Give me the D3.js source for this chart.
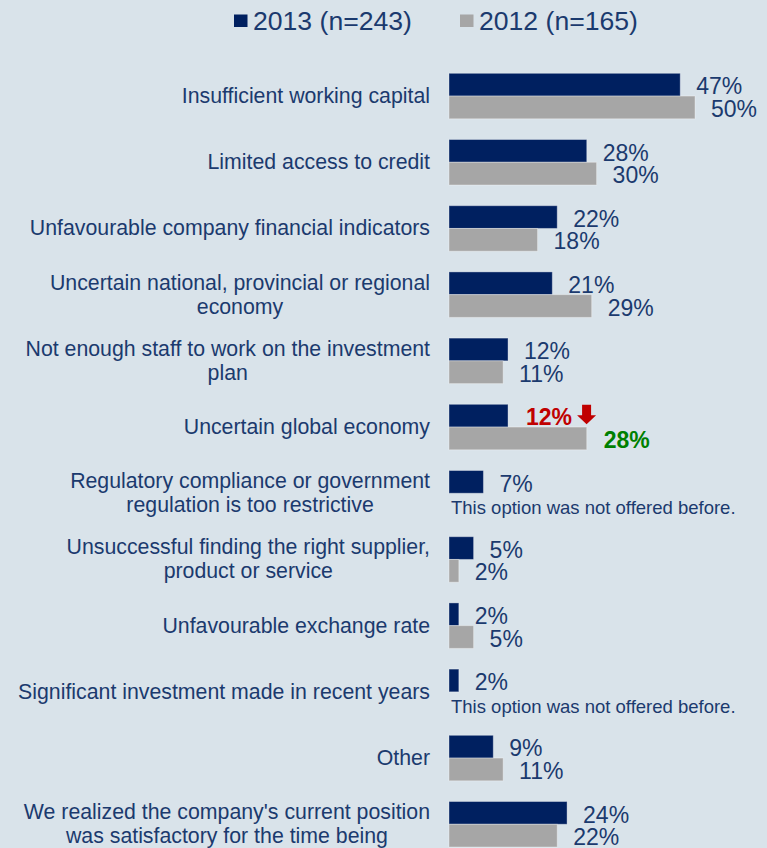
<!DOCTYPE html>
<html>
<head>
<meta charset="utf-8">
<script src="https://cdn.jsdelivr.net/npm/d3@7"></script>
<style>
  html, body { margin: 0; padding: 0; background: #d9e3ea; }
  svg { display: block; font-family: "Liberation Sans", Arial, sans-serif; }
</style>
</head>
<body>
<svg width="767" height="848"></svg>
<script>
// data
const categories = [
    "Insufficient working capital",
    "Limited access to credit",
    "Unfavourable company financial indicators",
    "Uncertain national, provincial or regional\neconomy",
    "Not enough staff to work on the investment\nplan",
    "Uncertain global economy",
    "Regulatory compliance or government\nregulation is too restrictive",
    "Unsuccessful finding the right supplier,\nproduct or service",
    "Unfavourable exchange rate",
    "Significant investment made in recent years",
    "Other",
    "We realized the company's current position\nwas satisfactory for the time being"
];
const values2013 = [47, 28, 22, 21, 12, 12, 7, 5, 2, 2, 9, 24];
const values2012 = [50, 30, 18, 29, 11, 28, null, 2, 5, null, 11, 22];
const seriesNames = ["2013 (n=243)", "2012 (n=165)"];
const noteText = "This option was not offered before.";
const highlighted = "Uncertain global economy";

const navy = "#002060";
const grey = "#a6a6a6";
const textColor = "#1b3a6e";

var svg = d3.select("svg");

// scales
const x = d3.scaleLinear().domain([0, 50]).range([449, 695]);
const y = d3.scaleBand()
    .domain(categories)
    .range([62.95, 62.95 + 12 * 66.2])
    .paddingInner(0.3127)
    .paddingOuter(0.3127 / 2);
const ySub = d3.scaleBand().domain(seriesNames).range([0, y.bandwidth()]);

// legend
const legend = svg.append("g");
const legendX = [234, 460];
seriesNames.forEach((name, i) => {
    legend.append("rect")
        .attr("x", legendX[i]).attr("y", 14.5)
        .attr("width", 13.5).attr("height", 12.5)
        .attr("fill", i === 0 ? navy : grey);
    legend.append("text")
        .attr("x", legendX[i] + 19).attr("y", 29.5)
        .attr("font-size", 26.6)
        .attr("fill", textColor)
        .text(name);
});

// rows
const rows = categories.map((c, i) => ({ cat: c, v13: values2013[i], v12: values2012[i] }));

const groups = svg.append("g")
    .selectAll("g")
    .data(rows)
    .enter()
    .append("g")
    .attr("transform", d => `translate(0,${y(d.cat)})`);

// 2013 bars
groups.append("rect")
    .attr("x", x(0))
    .attr("y", ySub(seriesNames[0]))
    .attr("width", d => x(d.v13) - x(0))
    .attr("height", ySub.bandwidth())
    .attr("fill", navy)
    .attr("stroke", "rgba(255,255,255,0.35)")
    .attr("stroke-width", 1);

// 2012 bars
groups.filter(d => d.v12 != null)
    .append("rect")
    .attr("x", x(0))
    .attr("y", ySub(seriesNames[1]))
    .attr("width", d => x(d.v12) - x(0))
    .attr("height", ySub.bandwidth())
    .attr("fill", grey)
    .attr("stroke", "rgba(255,255,255,0.35)")
    .attr("stroke-width", 1);

// value labels
const lab13 = groups.append("text")
    .attr("x", d => x(d.v13) + (d.cat === highlighted ? 18 : 16))
    .attr("y", ySub(seriesNames[0]) + ySub.bandwidth() - 1.7)
    .attr("font-size", 23)
    .attr("font-weight", d => d.cat === highlighted ? "bold" : "normal")
    .attr("fill", d => d.cat === highlighted ? "#c00000" : textColor)
    .text(d => d.v13 + "%");

groups.filter(d => d.v12 != null)
    .append("text")
    .attr("x", d => x(d.v12) + (d.cat === highlighted ? 17 : 16))
    .attr("y", ySub(seriesNames[1]) + ySub.bandwidth() - 1.7)
    .attr("font-size", 23)
    .attr("font-weight", d => d.cat === highlighted ? "bold" : "normal")
    .attr("fill", d => d.cat === highlighted ? "#008000" : textColor)
    .text(d => d.v12 + "%");

// note where there was no 2012 option
groups.filter(d => d.v12 == null)
    .append("text")
    .attr("x", x(0) + 2)
    .attr("y", ySub(seriesNames[1]) + ySub.bandwidth() - 1.5)
    .attr("font-size", 18.5)
    .attr("fill", textColor)
    .text(noteText);

// red down arrow after the highlighted label
lab13.filter(d => d.cat === highlighted).each(function (d) {
    const ax = +this.getAttribute("x") + this.getComputedTextLength() + 5;
    const top = ySub(seriesNames[0]) + 0.5;
    d3.select(this.parentNode).append("path")
        .attr("d", `M${ax + 5},${top} h9 v10.5 h5 l-9.5,9 l-9.5,-9 h5 z`)
        .attr("fill", "#c00000");
});

// category labels, right aligned block, lines centred in block
groups.each(function (d) {
    const g = d3.select(this);
    const lines = d.cat.split("\n");
    const mid = y.bandwidth() / 2;
    const texts = lines.map((line, k) => g.append("text")
        .attr("y", mid + 7 + (k - (lines.length - 1) / 2) * 24)
        .attr("font-size", 21.3)
        .attr("fill", textColor)
        .attr("text-anchor", "middle")
        .text(line));
    const w = d3.max(texts, t => t.node().getComputedTextLength());
    texts.forEach(t => t.attr("x", 430 - w / 2));
});
</script>
</body>
</html>
